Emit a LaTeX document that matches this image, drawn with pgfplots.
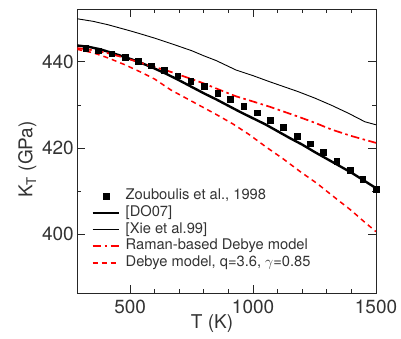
\documentclass[border=0pt]{standalone}
\usepackage{pgfplots}
\pgfplotsset{compat=1.18}
\usepackage{fontspec}
\setmainfont{TeX Gyre Heros}
\definecolor{txt}{rgb}{0.2,0.2,0.2}
\pgfplotsset{
  legA/.style={legend image code/.code={\path[draw=none] (0pt,0pt) -- (26.7pt,0pt);
    \fill[black] (10.5pt,-2.9pt) rectangle (16.3pt,2.9pt);}},
  legB/.style={legend image code/.code={\path[draw=none] (0pt,0pt) -- (26.7pt,0pt);
    \draw[black, line width=2.4pt, solid] (0pt,0pt) -- (26.7pt,0pt);}},
  legC/.style={legend image code/.code={\path[draw=none] (0pt,0pt) -- (26.7pt,0pt);
    \draw[black, line width=0.9pt, solid] (0pt,0pt) -- (26.7pt,0pt);}},
  legD/.style={legend image code/.code={\path[draw=none] (0pt,0pt) -- (26.7pt,0pt);
    \draw[red, line width=1.7pt, dash pattern=on 8.5pt off 3.5pt on 2.5pt off 3.5pt] (0pt,0pt) -- (26.7pt,0pt);}},
  legE/.style={legend image code/.code={\path[draw=none] (0pt,0pt) -- (26.7pt,0pt);
    \draw[red, line width=1.5pt, dash pattern=on 5pt off 4pt] (0pt,0pt) -- (26.7pt,0pt);}},
}
\begin{document}
\begin{tikzpicture}
\begin{axis}[
  scale only axis,
  width=298.7pt, height=284pt,
  xmin=285, xmax=1500, ymin=386.3, ymax=452.2,
  xtick={500,1000,1500}, ytick={400,420,440},
  minor x tick num=4, minor y tick num=1,
  major tick length=8pt, minor tick length=4pt,
  axis line style={line width=0.9pt, black!85},
  every tick/.style={line width=0.9pt, black!85},
  /pgf/number format/assume math mode=true,
  /pgf/number format/1000 sep={},
  tick label style={font=\fontsize{19}{22}\selectfont, text=txt},
  xticklabel style={yshift=-3.5pt},
  label style={font=\fontsize{19}{22}\selectfont, text=txt},
  xlabel={T (K)},
  ylabel={K\textsubscript{T} (GPa)},
  xlabel style={at={(axis description cs:0.451,0)}, anchor=base, yshift=-35.7pt},
  ylabel style={at={(axis description cs:-0.167,0.471)}, anchor=center},
  legend cell align=left,
  legend style={draw=none, fill=none, inner sep=0pt,
    at={(axis description cs:0.0465,0.372)}, anchor=north west,
    font=\fontsize{14.7}{16.6}\selectfont, text=txt,
    nodes={inner sep=1.5pt, text height=10.5pt, text depth=3.2pt},
    column sep=3.7pt, row sep=0pt},
]
\addplot[only marks, mark=square*, mark size=2.9pt, black, legA]
 coordinates {
(319,443.2)(371,442.6)(425,441.9)(480,441.0)(533,440.1)(587,439.1)
(640,438.0)(693,436.8)(746,435.6)(801,434.3)(856,432.8)(908,431.4)
(962,429.8)(1016,428.2)(1070,426.5)(1123,424.8)(1178,422.8)(1231,421.0)
(1285,419.0)(1340,417.0)(1394,414.9)(1446,412.8)(1500,410.5)};
\addlegendentry{Zouboulis et al., 1998}
\addplot[black, line width=2.4pt, legB]
 coordinates {
(285,443.8)(330,443.5)(380,442.9)(430,442.0)(480,441.1)(530,440.1)
(590,438.7)(640,437.4)(690,436.0)(750,434.2)(800,432.7)(850,431.3)
(900,429.8)(950,428.3)(1000,426.9)(1050,425.5)(1100,423.9)(1150,422.3)
(1200,420.8)(1250,419.1)(1300,417.5)(1350,415.9)(1400,414.3)(1450,412.5)
(1500,410.7)};
\addlegendentry{[DO07]}
\addplot[black, line width=0.9pt, legC]
 coordinates {
(285,450.0)(350,449.4)(411,448.6)(500,447.2)(548,446.4)(600,445.5)
(684,443.9)(750,442.6)(800,441.4)(850,440.3)(931,438.1)(1000,436.8)
(1067,435.4)(1183,433.1)(1251,431.6)(1320,429.9)(1387,428.1)(1455,426.1)
(1500,425.4)};
\addlegendentry{[Xie et al.99]}
\addplot[red, line width=1.7pt, dash pattern=on 8.5pt off 3.5pt on 2.5pt off 3.5pt, legD]
 coordinates {
(285,443.2)(350,442.7)(411,442.0)(480,440.9)(548,439.7)(600,438.8)
(659,437.8)(730,436.4)(795,435.1)(860,433.6)(931,432.0)(1000,430.8)
(1067,429.6)(1183,427.3)(1250,425.9)(1319,424.3)(1400,422.8)(1500,421.2)};
\addlegendentry{Raman-based Debye model}
\addplot[red, line width=1.5pt, dash pattern=on 5pt off 4pt, legE]
 coordinates {
(285,442.9)(350,442.1)(411,440.9)(480,439.3)(548,437.5)(600,436.0)
(665,433.5)(730,431.5)(782,429.9)(850,427.8)(918,425.6)(985,423.1)
(1054,420.2)(1120,417.6)(1190,414.6)(1260,411.8)(1326,408.8)(1400,405.5)
(1450,403.0)(1500,400.6)};
\addlegendentry{Debye model, q=3.6, $\gamma$=0.85}
\end{axis}
\pgfresetboundingbox
\path[use as bounding box] (-77.3pt,-45.7pt) rectangle (323.7pt,293.3pt);
\end{tikzpicture}
\end{document}
